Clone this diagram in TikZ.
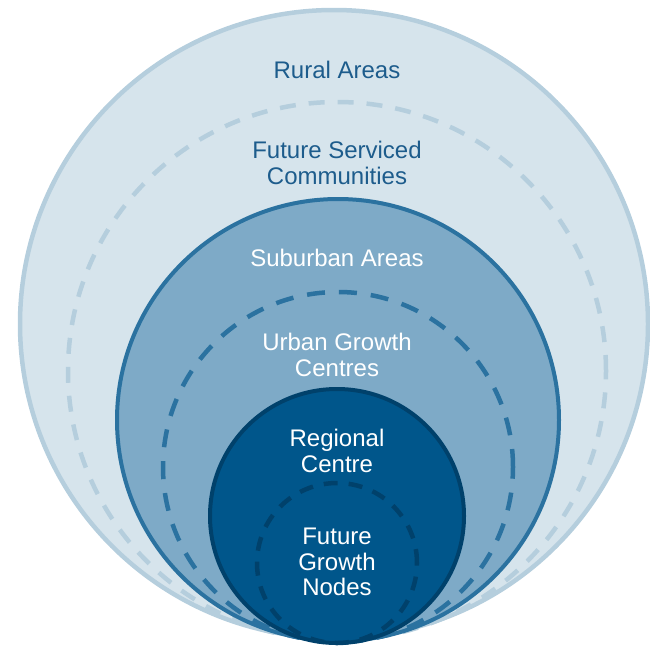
\documentclass[tikz,border=0pt]{standalone}
\usepackage{fontspec}
\setmainfont{Liberation Sans}
\usetikzlibrary{positioning}
\definecolor{ruralfill}{HTML}{D6E4EC}
\definecolor{ruralline}{HTML}{B5CEDD}
\definecolor{suburbfill}{HTML}{7EAAC7}
\definecolor{suburbline}{HTML}{2B72A0}
\definecolor{regionfill}{HTML}{00568B}
\definecolor{regionline}{HTML}{00416B}
\definecolor{labelblue}{HTML}{1D5C8C}

\begin{document}
\begin{tikzpicture}[x=1pt,y=-1pt,
    zone/.style={circle,inner sep=0pt,line width=4.5pt},
    ring/.style={circle,inner sep=0pt,line width=4.5pt},
    lbl/.style={align=center,font=\fontsize{24}{25.5}\selectfont}]
\useasboundingbox (0,0) rectangle (650,645);

\node[zone,fill=ruralfill,draw=ruralline,minimum size=628pt] (c_rural) at (334,324) {};
\node[ring,draw=ruralline,dash pattern=on 16pt off 13pt,minimum size=538pt] (c_serviced) at (337,371) {};
\node[zone,fill=suburbfill,draw=suburbline,line width=4pt,minimum size=442pt] (c_suburb) at (338,420) {};
\node[ring,draw=suburbline,dash pattern=on 18pt off 14pt,minimum size=350pt] (c_urban) at (338,467) {};
\node[zone,fill=regionfill,draw=regionline,line width=4pt,minimum size=254pt] (c_region) at (337,516) {};
\node[ring,draw=regionline,dash pattern=on 14pt off 11pt,minimum size=160pt] (c_nodes) at (337,563) {};

\node[lbl,text=labelblue] (l_rural) at (337,70) {Rural Areas};
\node[lbl,text=labelblue] (l_serviced) at (337,163) {Future Serviced\\Communities};
\node[lbl,text=white] (l_suburb) at (337,258) {Suburban Areas};
\node[lbl,text=white] (l_urban) at (337,355) {Urban Growth\\Centres};
\node[lbl,text=white] (l_region) at (337,451) {Regional\\Centre};
\node[lbl,text=white] (l_nodes) at (337,562) {Future\\Growth\\Nodes};
\end{tikzpicture}
\end{document}
